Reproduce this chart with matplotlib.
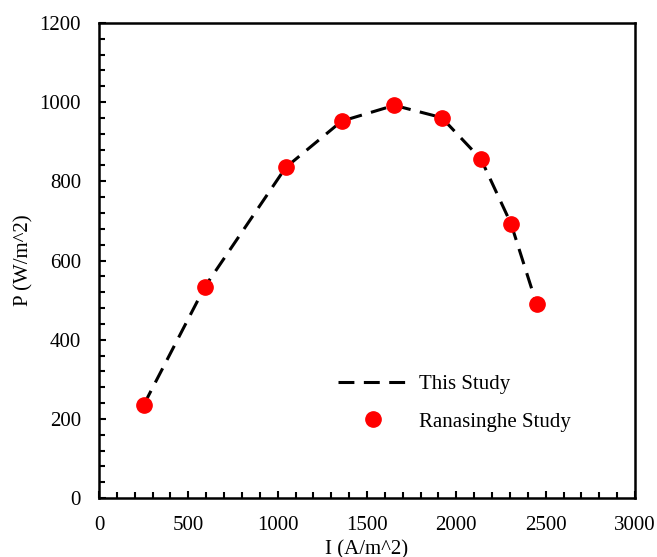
import numpy as np
import matplotlib.pyplot as plt
from matplotlib.ticker import MultipleLocator

# current density (A/m^2) and power density (W/m^2)
current = [250, 593, 1045, 1358, 1653, 1918, 2138, 2306, 2449]
power_this = [235, 534, 835, 952, 992, 961, 856, 693, 490]
power_ranasinghe = [235, 534, 835, 952, 992, 961, 856, 693, 490]

plt.rcParams["font.family"] = ["Liberation Serif", "DejaVu Serif"]

fig = plt.figure(figsize=(6.57, 5.57), dpi=100)
ax = fig.add_axes([99 / 657, 1 - 498 / 557, 536 / 657, 475 / 557])

ax.plot(current, power_this, color="black", lw=2.2, dashes=(5.2, 3.1),
        label="This Study", zorder=2)
ax.plot(current, power_ranasinghe, "o", color="red", ms=11, mec="red",
        label="Ranasinghe Study", zorder=3)

ax.set_xlim(0, 3000)
ax.set_ylim(0, 1200)
ax.xaxis.set_major_locator(MultipleLocator(500))
ax.xaxis.set_minor_locator(MultipleLocator(100))
ax.yaxis.set_major_locator(MultipleLocator(200))
ax.yaxis.set_minor_locator(MultipleLocator(40))

ax.tick_params(which="both", direction="in", top=False, right=False,
               width=1.5, labelsize=15)
ax.tick_params(which="major", length=5)
ax.tick_params(which="minor", length=4)
ax.tick_params(axis="y", pad=13)
ax.tick_params(axis="x", pad=13)
for s in ax.spines.values():
    s.set_linewidth(1.8)

ax.set_xlabel("I (A/m^2)", fontsize=15, labelpad=4)
ax.set_ylabel("P (W/m^2)", fontsize=15, labelpad=4)

ax.legend(loc="lower left", bbox_to_anchor=(0.41, 0.10), frameon=False,
          fontsize=15, handlelength=3.4, labelspacing=0.85, handletextpad=0.5)

fig.savefig("out.png", dpi=100)
